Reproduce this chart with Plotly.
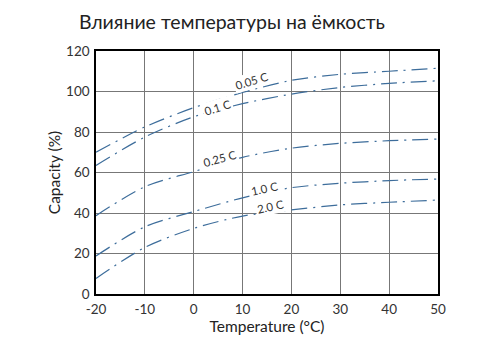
import plotly.graph_objects as go

temps = [-20, -10, 0, 10, 20, 30, 40, 50]
cap_005 = [70, 82.5, 92, 99.5, 105.5, 108.5, 110, 111.5]
cap_01 = [63.5, 77.5, 87.5, 94, 98.7, 102, 104, 105.3]
cap_025 = [38.7, 53, 60.4, 67.5, 72, 74.4, 75.7, 76.5]
cap_10 = [18.8, 33.2, 40.7, 47.5, 52.5, 54.7, 56, 56.8]
cap_20 = [7.7, 23, 32.4, 38.5, 41.5, 44, 45.3, 46.4]
x_ticks = [-20, -10, 0, 10, 20, 30, 40, 50]
x_tick_text = ["-20", "-10", "0", "10", "20", "30", "40", "50"]

series = [("0.05 C", cap_005), ("0.1 C", cap_01), ("0.25 C", cap_025), ("1.0 C", cap_10), ("2.0 C", cap_20)]
labels = [("0.05 C", 12, 105.3, -17), ("0.1 C", 4.8, 92.3, -17), ("0.25 C", 5.3, 67, -15),
          ("1.0 C", 14.5, 52.3, -12), ("2.0 C", 15.7, 43, -12)]

font = "Lato"
color = "#3d6d9b"
fig = go.Figure()
for name, ys in series:
    fig.add_trace(go.Scatter(x=temps, y=ys, mode="lines", name=name,
                             line=dict(color=color, width=1.2, dash="16px,6px,2px,6px", shape="spline", smoothing=0.8)))

for text, x, y, ang in labels:
    fig.add_annotation(x=x, y=y, text=text, showarrow=False, textangle=ang,
                       font=dict(family=font, size=11.5, color="#333"), bgcolor="white")

fig.add_annotation(xref="paper", yref="paper", x=(77 - 96) / 342, y=(294 - 22) / 243,
                   xanchor="left", yanchor="middle", showarrow=False,
                   text="Влияние температуры на ёмкость",
                   font=dict(family=font, size=19.5, color="#222"))

fig.update_layout(
    width=493, height=353, showlegend=False,
    margin=dict(l=96, r=55, t=51, b=59),
    paper_bgcolor="white", plot_bgcolor="white",
    font=dict(family=font, color="#333"),
)
fig.update_xaxes(range=[-20, 50], tickvals=x_ticks, ticktext=x_tick_text, showgrid=True, gridcolor="#777777", gridwidth=1,
                 showline=True, linecolor="black", linewidth=1.5, mirror=True, zeroline=False,
                 ticks="", ticklabelstandoff=2, tickfont=dict(size=13.5, color="#333"),
                 title=dict(text="Temperature (°C)", font=dict(size=15.5, color="#222"), standoff=4))
fig.update_yaxes(range=[0, 120], dtick=20, showgrid=True, gridcolor="#777777", gridwidth=1,
                 showline=True, linecolor="black", linewidth=1.5, mirror=True, zeroline=False,
                 ticks="", ticklabelstandoff=2, tickfont=dict(size=13.5, color="#333"),
                 title=dict(text="Capacity (%)", font=dict(size=15.5, color="#222"), standoff=2))
fig.write_html("out.html")
